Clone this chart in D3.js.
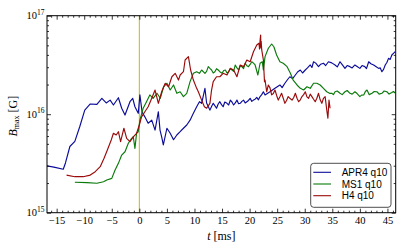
<!DOCTYPE html>
<html><head><meta charset="utf-8">
<script src="https://cdn.jsdelivr.net/npm/d3@7"></script>
<style>body{margin:0;background:#fff}svg{display:block}</style>
</head><body>
<svg id="c" width="407" height="252"></svg>
<script>
// ---- data (t in ms, B_max in G) ----
const seriesNames = ["APR4 q10", "MS1 q10", "H4 q10"];
const seriesColors = ["#0b0b99", "#0a7a0a", "#9a0a0a"];
const xTicks = [-15, -10, -5, 0, 5, 10, 15, 20, 25, 30, 35, 40, 45];
const yTicks = [1e15, 1e16, 1e17];
const yTickExp = ["15", "16", "17"];
const mergerTime = 0;

const apr4 = [[-17,3.0e15],[-15.5,2.9e15],[-13.8,2.76e15],[-13.4,3.2e15],[-12.6,4.7e15],[-11.7,5.3e15],[-10.8,7.5e15],[-9.9,1.10e16],[-8.9,1.27e16],[-7.7,1.26e16],[-6.8,1.45e16],[-6.0,1.30e16],[-5.3,1.39e16],[-4.7,1.24e16],[-3.8,1.47e16],[-3.2,1.15e16],[-2.6,9.8e15],[-1.7,1.34e16],[-1.2,1.45e16],[-0.8,1.19e16],[-0.2,1.02e16],[0.1,1.57e16],[0.5,1.05e16],[1.0,9.4e15],[1.6,8.1e15],[2.25,8.7e15],[2.85,6.9e15],[3.45,1.06e16],[3.75,6.9e15],[4.05,5.9e15],[4.35,4.87e15],[5.0,7.2e15],[5.6,6.4e15],[6.2,5.5e15],[6.8,6.15e15],[7.4,6.64e15],[8.0,7.2e15],[8.6,7.77e15],[9.2,8.7e15],[9.8,1.02e16],[10.4,1.19e16],[10.9,1.34e16],[11.3,1.29e16],[11.9,1.83e16],[12.2,1.30e16],[12.8,1.10e16],[13.1,1.2e16],[13.4,1.29e16],[13.7,1.22e16],[14.0,1.15e16],[14.3,1.27e16],[14.6,1.34e16],[14.9,1.25e16],[15.2,1.19e16],[15.5,1.33e16],[15.9,1.29e16],[16.2,1.24e16],[16.5,1.39e16],[16.8,1.33e16],[17.1,1.24e16],[17.4,1.3e16],[17.7,1.39e16],[18.0,1.28e16],[18.3,1.29e16],[18.6,1.35e16],[18.9,1.39e16],[19.2,1.3e16],[19.5,1.34e16],[19.8,1.38e16],[20.1,1.45e16],[20.4,1.35e16],[20.7,1.39e16],[21.0,1.42e16],[21.3,1.48e16],[21.6,1.40e16],[21.9,1.51e16],[22.2,1.58e16],[22.5,1.69e16],[22.8,1.57e16],[23.7,1.69e16],[24.6,1.83e16],[25.5,1.98e16],[25.9,1.86e16],[26.4,2.06e16],[26.9,2.25e16],[27.3,2.40e16],[27.8,2.30e16],[28.3,2.50e16],[28.7,2.68e16],[29.2,2.81e16],[29.6,2.62e16],[30.1,2.81e16],[30.5,2.95e16],[31.0,3.16e16],[31.3,2.98e16],[31.6,3.41e16],[32.0,3.30e16],[32.5,3.04e16],[32.9,3.22e16],[33.4,3.29e16],[33.8,3.12e16],[34.3,3.41e16],[34.9,3.32e16],[35.5,3.16e16],[35.9,3.02e16],[36.4,3.41e16],[36.8,3.18e16],[37.3,2.92e16],[37.7,3.12e16],[38.2,3.04e16],[38.6,2.95e16],[39.1,3.16e16],[39.5,3.05e16],[40.0,2.92e16],[40.4,3.12e16],[40.9,3.04e16],[41.2,2.90e16],[41.6,3.41e16],[42.0,3.25e16],[42.5,3.16e16],[42.9,3.05e16],[43.4,2.92e16],[43.7,2.95e16],[44.0,2.70e16],[44.3,2.85e16],[44.6,3.16e16],[44.9,3.35e16],[45.2,3.69e16],[45.5,3.60e16],[45.8,3.99e16],[46.1,4.15e16],[46.4,4.31e16]];

const ms1 = [[-11.7,2.04e15],[-9.5,2.02e15],[-7.7,1.99e15],[-6.5,2.06e15],[-5.9,2.15e15],[-5.0,2.23e15],[-4.4,2.71e15],[-3.8,3.17e15],[-3.2,3.85e15],[-2.6,4.16e15],[-2.0,5.07e15],[-1.4,5.69e15],[-1.1,5.9e15],[-0.8,4.5e15],[-0.5,6.4e15],[-0.2,6.64e15],[0.1,8.7e15],[0.7,1.15e16],[1.3,1.34e16],[1.9,1.57e16],[2.5,1.45e16],[3.2,1.63e16],[3.8,1.45e16],[4.4,1.90e16],[5.0,2.06e16],[5.6,1.76e16],[6.2,1.98e16],[6.8,1.63e16],[7.4,1.69e16],[8.0,1.51e16],[8.6,1.63e16],[9.2,2.14e16],[9.8,2.60e16],[10.4,2.70e16],[10.9,2.60e16],[11.3,2.81e16],[11.9,2.60e16],[12.2,2.72e16],[12.5,3.04e16],[12.8,2.92e16],[13.1,2.81e16],[13.4,2.62e16],[13.7,2.70e16],[14.0,2.9e16],[14.3,2.81e16],[14.6,2.7e16],[15.0,2.60e16],[15.3,2.78e16],[15.6,2.81e16],[15.9,2.62e16],[16.2,2.70e16],[16.5,2.9e16],[16.8,2.81e16],[17.1,2.72e16],[17.4,3.16e16],[17.7,2.95e16],[18.0,2.81e16],[18.3,3.1e16],[18.6,3.04e16],[18.9,2.9e16],[19.2,3.29e16],[19.5,3.1e16],[19.8,3.04e16],[20.1,3.2e16],[20.4,3.41e16],[20.7,3.3e16],[21.0,3.16e16],[21.5,2.50e16],[21.9,3.29e16],[22.3,3.41e16],[22.5,2.81e16],[22.8,3.84e16],[23.4,4.67e16],[24.0,5.16e16],[24.4,4.84e16],[24.9,3.99e16],[25.5,3.41e16],[26.1,3.29e16],[26.8,3.04e16],[27.4,2.60e16],[27.9,2.22e16],[28.6,1.98e16],[29.2,1.83e16],[29.8,1.76e16],[30.4,1.90e16],[31.0,1.83e16],[31.6,2.06e16],[32.2,2.06e16],[32.8,1.98e16],[33.4,1.83e16],[34.0,1.69e16],[34.5,1.63e16],[34.9,1.63e16],[35.2,1.58e16],[35.5,1.69e16],[35.9,1.72e16],[36.4,1.63e16],[36.8,1.58e16],[37.3,1.69e16],[37.7,1.74e16],[38.2,1.63e16],[38.6,1.6e16],[39.1,1.69e16],[39.5,1.62e16],[40.0,1.51e16],[40.3,1.56e16],[40.7,1.57e16],[41.0,1.7e16],[41.3,1.76e16],[41.7,1.58e16],[42.2,1.63e16],[42.6,1.7e16],[43.1,1.69e16],[43.5,1.6e16],[44.0,1.63e16],[44.4,1.72e16],[44.9,1.69e16],[45.3,1.6e16],[45.8,1.66e16],[46.1,1.7e16],[46.4,1.64e16]];

const h4 = [[-13.2,2.41e15],[-11.7,2.32e15],[-10.2,2.32e15],[-8.9,2.41e15],[-8.0,2.61e15],[-7.1,2.93e15],[-6.4,3.57e15],[-5.8,4.33e15],[-5.1,5.47e15],[-4.7,6.4e15],[-4.2,6.15e15],[-3.8,6.64e15],[-3.4,5.26e15],[-2.8,7.2e15],[-2.3,5.69e15],[-1.7,5.26e15],[-1.1,5.87e15],[-0.5,6.4e15],[0.0,7.77e15],[0.4,9.4e15],[1.0,1.06e16],[1.6,1.19e16],[2.25,1.45e16],[2.85,1.76e16],[3.45,1.29e16],[4.05,1.69e16],[4.7,2.06e16],[5.3,1.90e16],[5.9,2.40e16],[6.5,2.60e16],[7.1,2.22e16],[7.4,2.50e16],[8.0,2.70e16],[8.3,3.55e16],[8.9,3.84e16],[9.3,2.81e16],[9.8,2.22e16],[10.4,1.83e16],[10.7,1.69e16],[11.3,1.39e16],[11.8,1.19e16],[12.2,1.15e16],[12.8,1.29e16],[13.1,1.76e16],[13.4,2.14e16],[14.0,2.40e16],[14.6,2.40e16],[15.2,2.60e16],[15.9,2.50e16],[16.5,2.92e16],[17.1,2.81e16],[17.7,2.40e16],[18.3,3.16e16],[18.9,3.04e16],[19.5,3.55e16],[20.1,3.41e16],[20.7,4.31e16],[21.3,5.04e16],[21.7,5.25e16],[21.8,4.6e16],[21.9,5.6e16],[22.0,6.37e16],[22.05,4.7e16],[22.1,5.5e16],[22.2,4.49e16],[22.5,3.55e16],[22.7,2.14e16],[22.8,2.22e16],[23.1,1.69e16],[23.4,1.98e16],[23.7,1.85e16],[24.0,1.57e16],[24.3,1.62e16],[24.6,1.76e16],[24.9,1.55e16],[25.2,1.39e16],[25.5,1.5e16],[25.8,1.63e16],[26.1,1.45e16],[26.4,1.29e16],[26.7,1.38e16],[27.0,1.51e16],[27.3,1.45e16],[27.7,1.39e16],[28.0,1.48e16],[28.3,1.63e16],[28.6,1.45e16],[28.9,1.34e16],[29.2,1.4e16],[29.5,1.51e16],[29.8,1.58e16],[30.1,1.69e16],[30.4,1.5e16],[30.7,1.45e16],[31.0,1.6e16],[31.3,1.51e16],[31.6,1.42e16],[31.9,1.34e16],[32.2,1.45e16],[32.5,1.63e16],[32.8,1.4e16],[33.1,1.29e16],[33.4,1.45e16],[33.7,1.51e16],[34.0,1.10e16],[34.2,9.1e15],[34.4,1.39e16],[34.6,1.15e16]];

const allSeries = [apr4, ms1, h4];

// ---- layout ----
const W = 407, H = 252;
const L = 47, R = 395.7, T = 15.7, B = 212.7;
const svg = d3.select("#c");
svg.append("rect").attr("width", W).attr("height", H).attr("fill", "#fff");

const x = d3.scaleLinear().domain([-16.75, 46.5]).range([L, R]);
const y = d3.scaleLog().domain([1e15, 1e17]).range([B, T]);

const serif = "'Liberation Serif', 'Times New Roman', serif";
const sans = "'Liberation Sans', Arial, sans-serif";

svg.append("clipPath").attr("id", "pc").append("rect")
  .attr("x", L).attr("y", T).attr("width", R - L).attr("height", B - T);

const plot = svg.append("g").attr("clip-path", "url(#pc)");

// merger line
plot.append("line")
  .attr("x1", x(mergerTime)).attr("x2", x(mergerTime))
  .attr("y1", T).attr("y2", B)
  .attr("stroke", "#bfbf00").attr("stroke-width", 1);

const line = d3.line().x(d => x(d[0])).y(d => y(d[1]));
allSeries.forEach((s, i) => {
  plot.append("path").datum(d3.sort(s, d => d[0])).attr("d", line)
    .attr("fill", "none").attr("stroke", seriesColors[i])
    .attr("stroke-width", 1.15).attr("stroke-linejoin", "round");
});

// ---- axes ----
const xMinor = d3.range(-16, 47, 1).filter(v => v % 5 !== 0);
const yMinor = [];
[1e15, 1e16].forEach(d => { for (let k = 2; k <= 9; k++) yMinor.push(k * d); });

function styleAxis(g) {
  g.select(".domain").remove();
  g.selectAll(".tick line").attr("stroke", "#000").attr("stroke-width", 0.8);
}

svg.append("g").attr("transform", `translate(0,${B})`)
  .call(d3.axisBottom(x).tickValues(xTicks).tickSize(-4).tickPadding(4)
    .tickFormat(d => d < 0 ? "\u2212" + Math.abs(d) : String(d)))
  .call(styleAxis)
  .call(g => g.selectAll("text").attr("font-family", serif).attr("font-size", 10.5).attr("fill", "#000"));
svg.append("g").attr("transform", `translate(0,${B})`)
  .call(d3.axisBottom(x).tickValues(xMinor).tickSize(-2).tickFormat(""))
  .call(styleAxis);
svg.append("g").attr("transform", `translate(0,${T})`)
  .call(d3.axisTop(x).tickValues(xTicks).tickSize(-4).tickFormat(""))
  .call(styleAxis);
svg.append("g").attr("transform", `translate(0,${T})`)
  .call(d3.axisTop(x).tickValues(xMinor).tickSize(-2).tickFormat(""))
  .call(styleAxis);

svg.append("g").attr("transform", `translate(${L},0)`)
  .call(d3.axisLeft(y).tickValues(yTicks).tickSize(-4).tickFormat(""))
  .call(styleAxis);
svg.append("g").attr("transform", `translate(${L},0)`)
  .call(d3.axisLeft(y).tickValues(yMinor).tickSize(-2).tickFormat(""))
  .call(styleAxis);
svg.append("g").attr("transform", `translate(${R},0)`)
  .call(d3.axisRight(y).tickValues(yTicks).tickSize(-4).tickFormat(""))
  .call(styleAxis);
svg.append("g").attr("transform", `translate(${R},0)`)
  .call(d3.axisRight(y).tickValues(yMinor).tickSize(-2).tickFormat(""))
  .call(styleAxis);

// y tick labels 10^n
yTicks.forEach((v, i) => {
  const t = svg.append("text").attr("x", L - 2.5).attr("y", y(v) + 3.6)
    .attr("text-anchor", "end").attr("font-family", serif).attr("font-size", 10.5).attr("fill", "#000");
  t.append("tspan").text("10");
  t.append("tspan").attr("dy", -4.5).attr("font-size", 7.5).text(yTickExp[i]);
});

// frame
svg.append("rect").attr("x", L).attr("y", T).attr("width", R - L).attr("height", B - T)
  .attr("fill", "none").attr("stroke", "#000").attr("stroke-width", 1);

// axis labels
const xl = svg.append("text").attr("x", (L + R) / 2).attr("y", 239.5)
  .attr("text-anchor", "middle").attr("font-family", serif).attr("font-size", 12).attr("fill", "#000");
xl.append("tspan").attr("font-style", "italic").text("t");
xl.append("tspan").text(" [ms]");

const yl = svg.append("text").attr("transform", `translate(17,${(T + B) / 2 + 2}) rotate(-90)`)
  .attr("text-anchor", "middle").attr("font-family", serif).attr("font-size", 12).attr("fill", "#000");
yl.append("tspan").attr("font-style", "italic").text("B");
yl.append("tspan").attr("font-size", 8).attr("dy", 2).text("max");
yl.append("tspan").attr("dy", -2).text(" [G]");

// legend
const lg = svg.append("g");
lg.append("rect").attr("x", 310.7).attr("y", 163.3).attr("width", 80.3).attr("height", 44)
  .attr("rx", 3).attr("fill", "#fff").attr("stroke", "#222").attr("stroke-width", 0.8);
seriesNames.forEach((n, i) => {
  const yy = 172.3 + i * 11.7;
  lg.append("line").attr("x1", 313.3).attr("x2", 331).attr("y1", yy).attr("y2", yy)
    .attr("stroke", seriesColors[i]).attr("stroke-width", 1.1);
  lg.append("text").attr("x", 341.7).attr("y", yy + 3.6).attr("font-family", sans)
    .attr("font-size", 10).attr("fill", "#000").text(n);
});
</script>
</body></html>
